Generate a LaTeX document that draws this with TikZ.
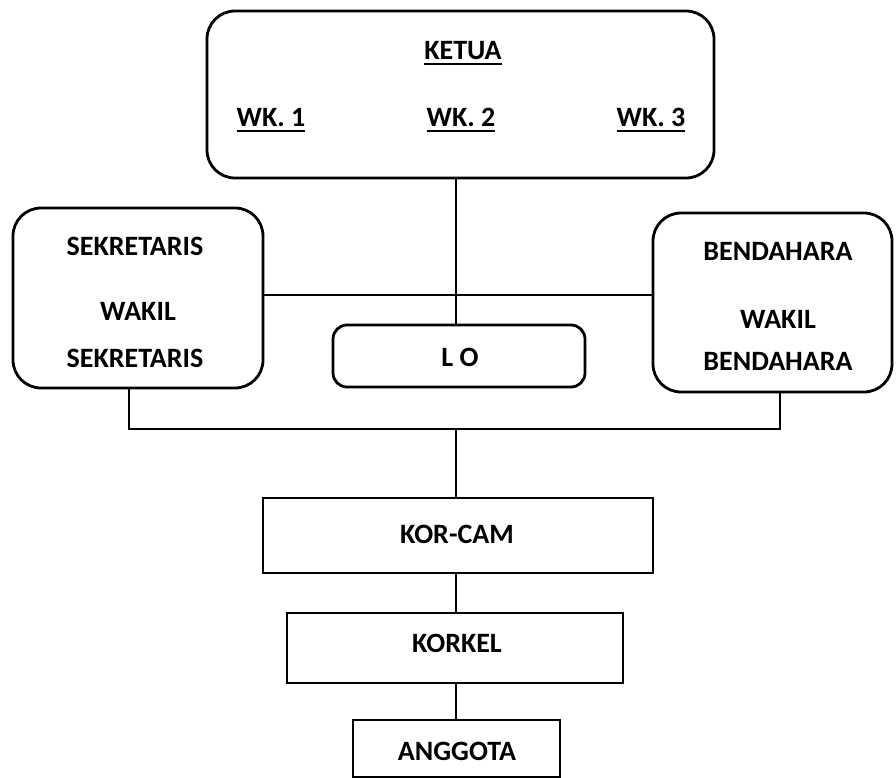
\documentclass[tikz,border=0pt]{standalone}
\usepackage{fontspec}
\setmainfont{Carlito}
\newcommand{\myul}[1]{\setbox0\hbox{#1}\rlap{\rule[-5.25pt]{\wd0}{2.5pt}}\box0}
\begin{document}
\begin{tikzpicture}[x=1pt,y=-1pt,
  box/.style={draw=black, line width=2.8pt, rectangle, inner sep=0pt},
  rbox/.style={box, rounded corners=28pt},
  lbl/.style={anchor=base, font=\fontsize{28}{34}\selectfont\bfseries, inner sep=0pt},
  conn/.style={draw=black, line width=2.6pt}]
\useasboundingbox (0,0) rectangle (896,778);
\fill[white] (0,0) rectangle (896,778);

\node[rbox, minimum width=507pt, minimum height=167pt] (ketuabox) at (460.5,94.5) {};
\node[rbox, minimum width=250pt, minimum height=180pt] (sekbox) at (138,298) {};
\node[rbox, minimum width=239pt, minimum height=179pt] (benbox) at (772.5,302.5) {};
\node[box, rounded corners=14pt, minimum width=252pt, minimum height=62pt] (lobox) at (459,356) {};
\node[box, minimum width=390pt, minimum height=75pt] (korcam) at (458,535.5) {};
\node[box, minimum width=336pt, minimum height=70pt] (korkel) at (455,648) {};
\node[box, minimum width=207pt, minimum height=57pt] (anggota) at (456.5,748.5) {};

\node[lbl] (ketua) at (463,60) {\myul{KETUA}};
\node[lbl] (wk1) at (271,127) {\myul{WK. 1}};
\node[lbl] (wk2) at (461,127) {\myul{WK. 2}};
\node[lbl] (wk3) at (651,127) {\myul{WK. 3}};
\node[lbl] (sek1) at (135,255) {SEKRETARIS};
\node[lbl] (sekw) at (138,320) {WAKIL};
\node[lbl] (sek2) at (135,367) {SEKRETARIS};
\node[lbl] (ben1) at (778,260) {BENDAHARA};
\node[lbl] (benw) at (778,328) {WAKIL};
\node[lbl] (ben2) at (778,370) {BENDAHARA};
\node[lbl] (lo) at (460,366) {L O};
\node[lbl] (korcamt) at (457,543) {KOR-CAM};
\node[lbl] (korkelt) at (457,652) {KORKEL};
\node[lbl] (anggotat) at (457,760) {ANGGOTA};

\coordinate (vx) at (456,0);
\coordinate (hy) at (0,295);
\coordinate (bl) at (129,429);
\coordinate (br) at (780,429);
\coordinate (bm) at (456,429);
\draw[conn] (ketuabox.south -| vx) -- (lobox.north -| vx);
\draw[conn] (sekbox.east |- hy) -- (benbox.west |- hy);
\draw[conn] (sekbox.south -| bl) -- (bl) -- (br) -- (benbox.south -| br);
\draw[conn] (bm) -- (korcam.north -| bm);
\draw[conn] (korcam.south -| bm) -- (korkel.north -| bm);
\draw[conn] (korkel.south -| bm) -- (anggota.north -| bm);
\end{tikzpicture}
\end{document}
